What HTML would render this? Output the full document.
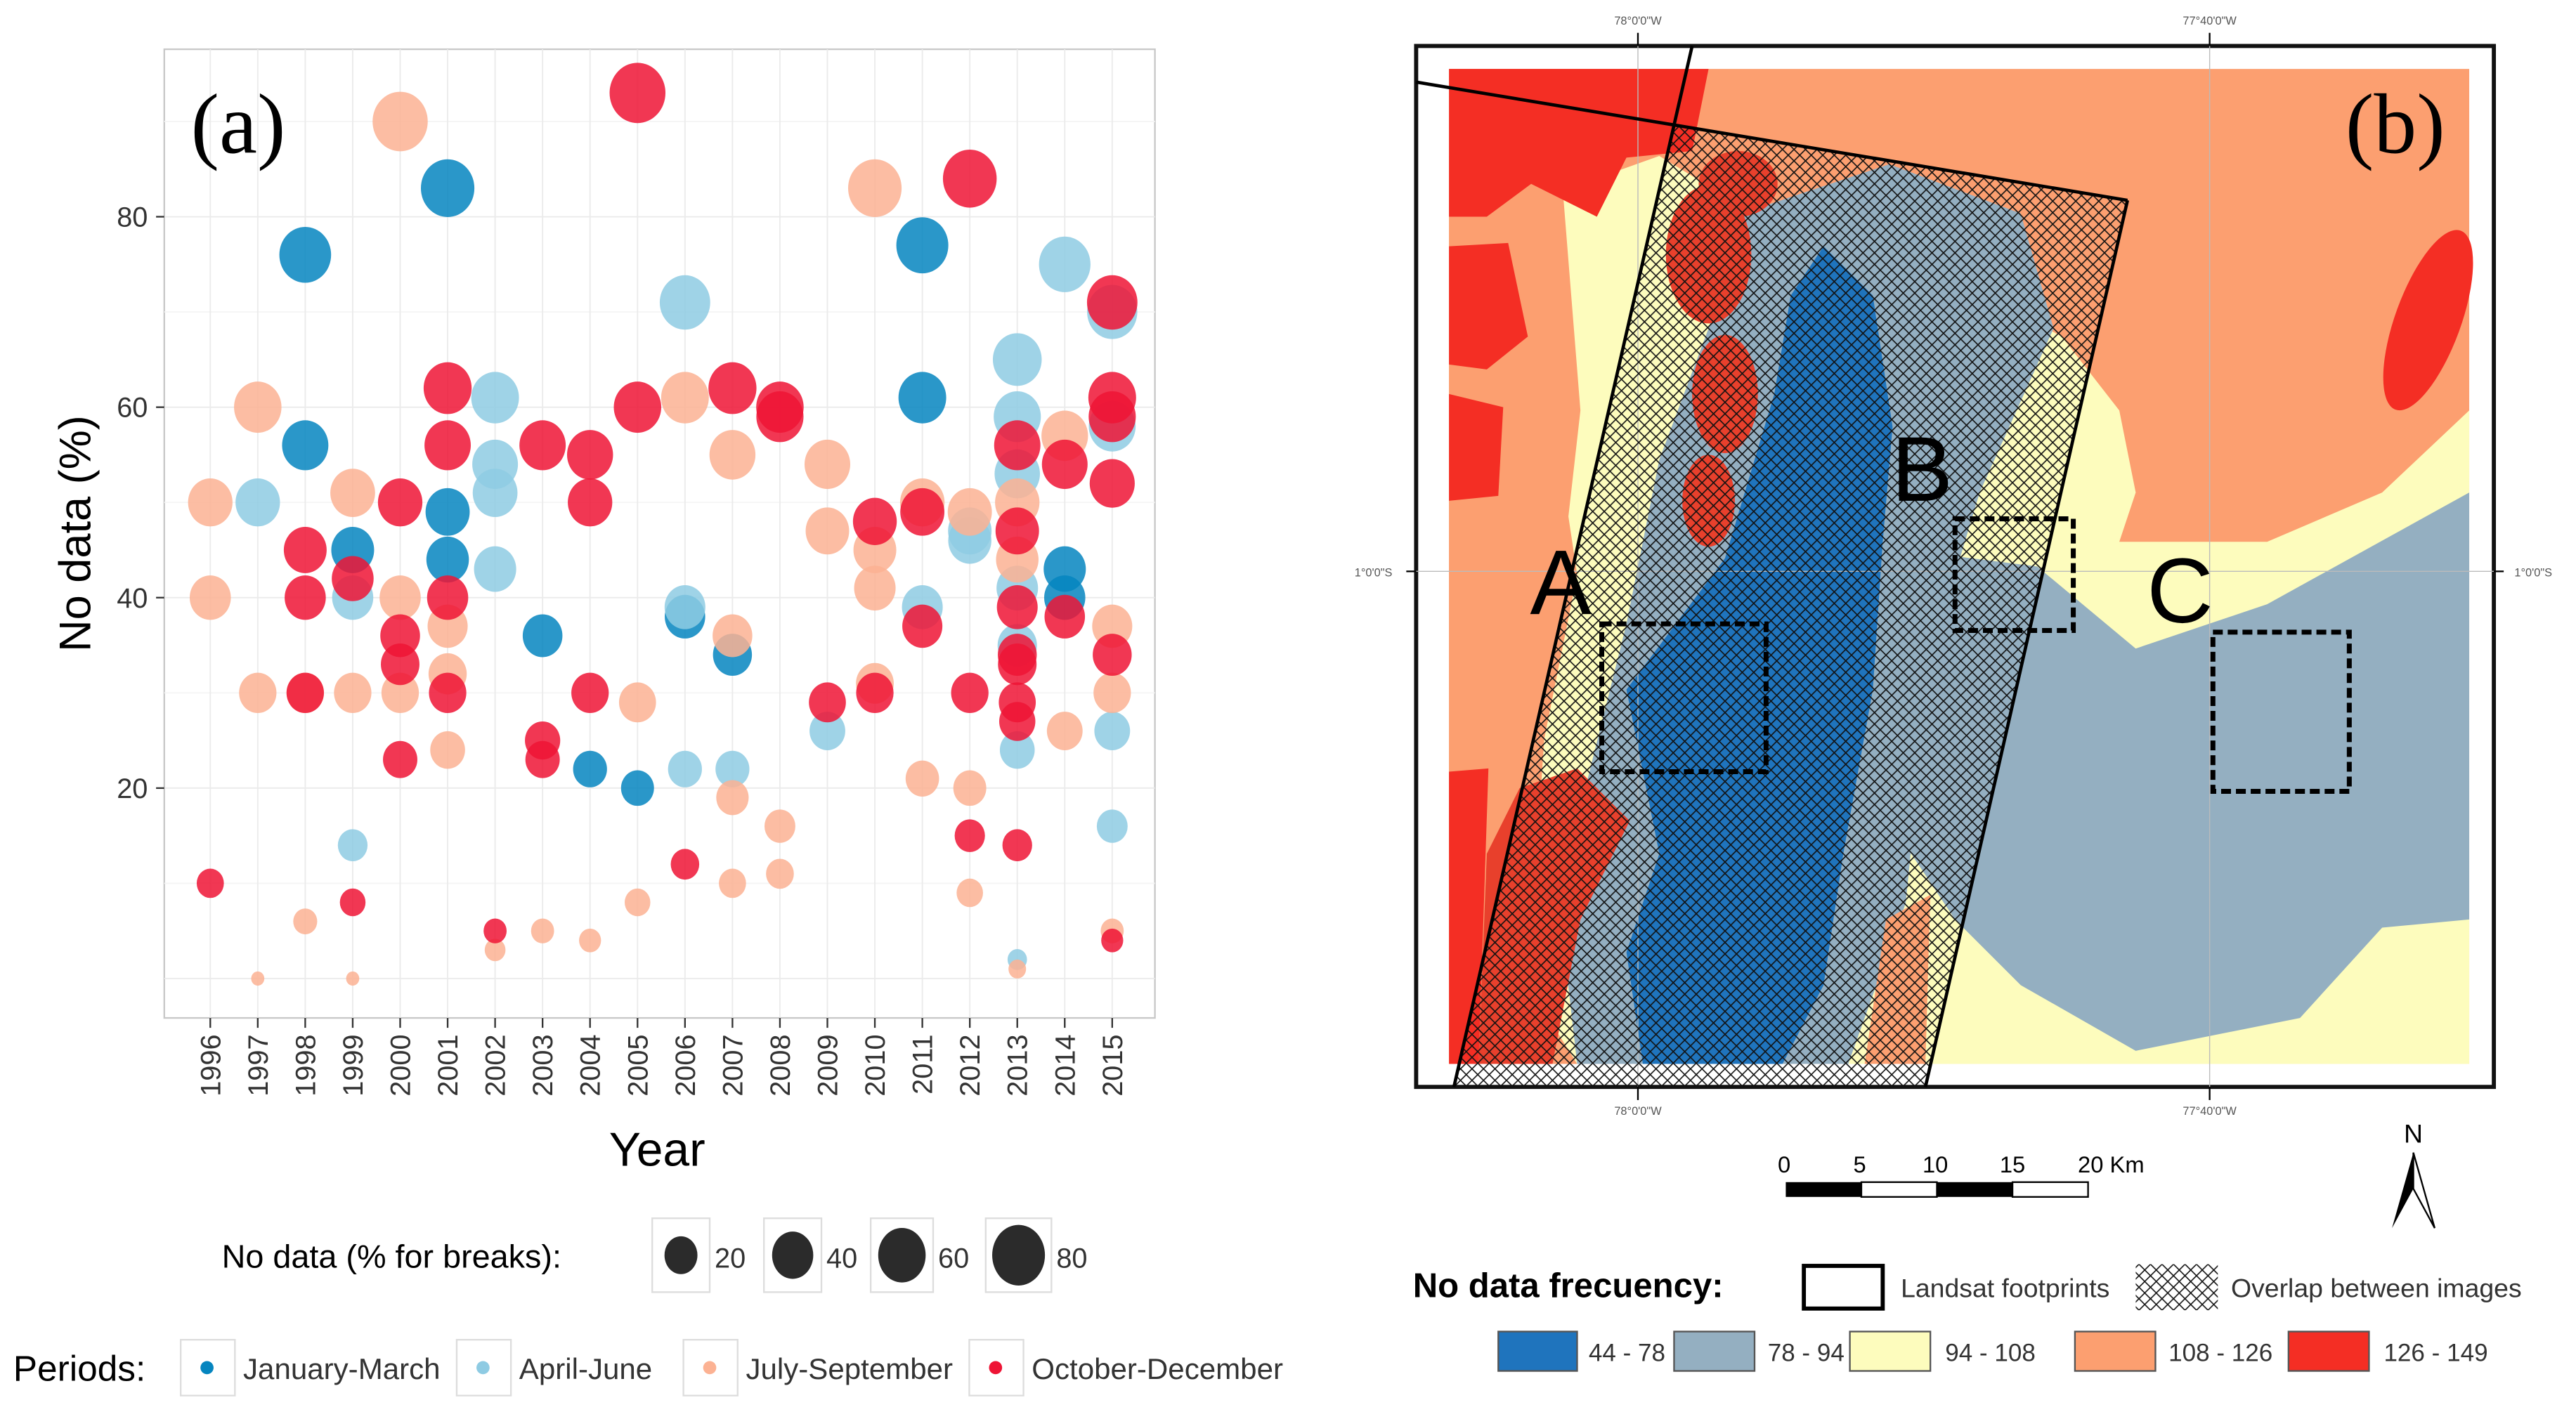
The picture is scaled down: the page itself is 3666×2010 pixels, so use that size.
<!DOCTYPE html>
<html><head><meta charset="utf-8"><style>
html,body{margin:0;padding:0;background:#fff;}
svg{display:block;}
text{font-family:"Liberation Sans",sans-serif;}
</style></head><body>
<svg id="fig" xmlns="http://www.w3.org/2000/svg" width="3666" height="2010" viewBox="0 0 1568 860" preserveAspectRatio="none">
<defs>
<pattern id="hatch" patternUnits="userSpaceOnUse" width="7" height="7">
<path d="M0,0 L7,7 M7,0 L0,7" stroke="#111" stroke-width="0.7" fill="none"/>
</pattern>
</defs>
<rect x="0" y="0" width="1568" height="860" fill="#fff"/>

<g id="panelA">
<rect x="100" y="30" width="603" height="590" fill="#fff" stroke="#c8c8c8" stroke-width="1"/>
<g id="grid"></g>
<g id="marks"></g>
<g id="yticks"></g>
<g id="xticks"></g>
<text x="145" y="93" font-size="52" text-anchor="middle" style="font-family:'Liberation Serif',serif">(a)</text>
<text transform="translate(55,325) rotate(-90)" font-size="27" text-anchor="middle">No data (%)</text>
<text x="400" y="710" font-size="29" text-anchor="middle">Year</text>
<g id="sizeLegend">
<text x="135" y="772" font-size="20">No data (% for breaks):</text>
</g>
<g id="periodLegend">
<text x="8" y="841" font-size="22">Periods:</text>
</g>
</g>

<g id="panelB">
<rect x="862" y="28" width="656" height="634" fill="#fff" stroke="#111" stroke-width="2.5"/>
<g>
<rect x="882" y="42" width="621" height="606" fill="#fc9f70"/>
<path fill="#fdfcbd" d="M940,120 L1010,95 L1100,150 L1200,175 L1255,205 L1290,250 L1300,300 L1290,330 L1380,330 L1450,300 L1503,250 L1503,648 L960,648 L930,600 L940,450 L960,350 L945,250 Z"/>
<path fill="#fc9f70" d="M882,95 L950,100 L962,250 L945,400 L935,500 L882,520 Z"/>
<path fill="#f42e24" d="M882,42 L1040,42 L1030,92 L990,96 L972,132 L932,112 L905,132 L882,132 Z"/>
<path fill="#f42e24" d="M882,150 L918,148 L930,205 L905,225 L882,222 Z"/>
<path fill="#f42e24" d="M882,240 L915,248 L912,302 L882,305 Z"/>
<path fill="#f42e24" d="M882,470 L906,468 L900,648 L882,648 Z"/>
<ellipse cx="1478" cy="195" rx="20" ry="58" transform="rotate(20 1478 195)" fill="#f42e24"/>
<path fill="#94afc1" d="M1240,345 L1300,395 L1380,368 L1503,300 L1503,560 L1450,565 L1400,620 L1300,640 L1230,600 L1190,560 L1150,500 L1135,420 L1160,335 Z"/>
<path fill="#94afc1" d="M1060,130 L1150,100 L1230,130 L1250,200 L1205,300 L1175,400 L1160,550 L1125,648 L960,648 L950,560 L965,480 L990,380 L1010,280 L1040,200 Z"/>
<path fill="#1f74bd" d="M1110,150 L1140,180 L1152,260 L1146,330 L1140,420 L1122,520 L1110,600 L1085,648 L1000,648 L990,580 L1010,520 L1000,470 L990,420 L1020,380 L1050,340 L1080,240 L1090,180 Z"/>
<ellipse cx="1040" cy="155" rx="26" ry="42" fill="#e8402c"/>
<ellipse cx="1058" cy="112" rx="24" ry="20" fill="#e8402c"/>
<ellipse cx="1050" cy="240" rx="20" ry="36" fill="#e8402c"/>
<ellipse cx="1040" cy="305" rx="16" ry="28" fill="#e8402c"/>
<path fill="#e8402c" d="M925,480 L960,468 L992,500 L962,560 L945,648 L900,648 L905,520 Z"/>
<path fill="#fc9f70" d="M1148,560 L1175,545 L1172,648 L1135,648 Z"/>
</g>
<g stroke="#bbb" stroke-width="0.6">
<line x1="997" y1="28" x2="997" y2="662"/><line x1="1345" y1="28" x2="1345" y2="662"/><line x1="862" y1="348" x2="1518" y2="348"/>
</g>
<path d="M1019,76 L1295,122 L1172,662 L885,662 Z" fill="url(#hatch)"/>
<g stroke="#000" stroke-width="2" fill="none">
<line x1="862" y1="50" x2="1295" y2="122"/>
<line x1="1030" y1="28" x2="885" y2="662"/>
<line x1="1295" y1="122" x2="1172" y2="662"/>
</g>
<g stroke="#000" stroke-width="3" stroke-dasharray="6,3" fill="none">
<rect x="975" y="380" width="100" height="90"/>
<rect x="1190" y="316" width="72" height="68"/>
<rect x="1347" y="385" width="83" height="97"/>
</g>
<text x="950" y="374" font-size="56" text-anchor="middle">A</text>
<text x="1170" y="305" font-size="56" text-anchor="middle">B</text>
<text x="1327" y="379" font-size="56" text-anchor="middle">C</text>
<text x="1458" y="93" font-size="52" text-anchor="middle" style="font-family:'Liberation Serif',serif">(b)</text>
<g font-size="7" fill="#555" text-anchor="middle">
<line x1="997" y1="20" x2="997" y2="28" stroke="#000"/><text x="997" y="15">78°0'0"W</text>
<line x1="1345" y1="20" x2="1345" y2="28" stroke="#000"/><text x="1345" y="15">77°40'0"W</text>
<line x1="997" y1="662" x2="997" y2="670" stroke="#000"/><text x="997" y="679">78°0'0"W</text>
<line x1="1345" y1="662" x2="1345" y2="670" stroke="#000"/><text x="1345" y="679">77°40'0"W</text>
<line x1="856" y1="348" x2="862" y2="348" stroke="#000"/><text x="836" y="351">1°0'0"S</text>
<line x1="1518" y1="348" x2="1524" y2="348" stroke="#000"/><text x="1542" y="351">1°0'0"S</text>
</g>
<g>
<text x="1086" y="714" font-size="14" text-anchor="middle">0</text>
<text x="1132" y="714" font-size="14" text-anchor="middle">5</text>
<text x="1178" y="714" font-size="14" text-anchor="middle">10</text>
<text x="1225" y="714" font-size="14" text-anchor="middle">15</text>
<text x="1285" y="714" font-size="14" text-anchor="middle">20 Km</text>
<rect x="1087" y="720" width="46" height="9" fill="#000"/>
<rect x="1133" y="720" width="46" height="9" fill="#fff" stroke="#000" stroke-width="1"/>
<rect x="1179" y="720" width="46" height="9" fill="#000"/>
<rect x="1225" y="720" width="46" height="9" fill="#fff" stroke="#000" stroke-width="1"/>
</g>
<g>
<text x="1469" y="696" font-size="16" text-anchor="middle">N</text>
<path d="M1469,702 L1456,748 L1469,724 Z" fill="#000"/>
<path d="M1469,702 L1482,748 L1469,724 Z" fill="#fff" stroke="#000" stroke-width="1"/>
</g>
<g>
<text x="860" y="790" font-size="21" font-weight="bold">No data frecuency:</text>
<rect x="1098" y="771" width="48" height="26" fill="#fff" stroke="#000" stroke-width="2.5"/>
<text x="1157" y="790" font-size="16" fill="#333">Landsat footprints</text>
<rect x="1300" y="770" width="50" height="28" fill="url(#hatch)"/>
<text x="1358" y="790" font-size="16" fill="#333">Overlap between images</text>
<rect x="912" y="811" width="48" height="24" fill="#1f74bd" stroke="#555" stroke-width="1"/><text x="967" y="829" font-size="15" fill="#333">44 - 78</text>
<rect x="1019" y="811" width="49" height="24" fill="#94afc1" stroke="#555" stroke-width="1"/><text x="1076" y="829" font-size="15" fill="#333">78 - 94</text>
<rect x="1126" y="811" width="49" height="24" fill="#fdfcbd" stroke="#555" stroke-width="1"/><text x="1184" y="829" font-size="15" fill="#333">94 - 108</text>
<rect x="1263" y="811" width="49" height="24" fill="#fc9f70" stroke="#555" stroke-width="1"/><text x="1320" y="829" font-size="15" fill="#333">108 - 126</text>
<rect x="1393" y="811" width="49" height="24" fill="#f42e24" stroke="#555" stroke-width="1"/><text x="1451" y="829" font-size="15" fill="#333">126 - 149</text>
</g>
</g>
</svg>
<script>
const years = [1996,1997,1998,1999,2000,2001,2002,2003,2004,2005,2006,2007,2008,2009,2010,2011,2012,2013,2014,2015];
const yTicks = [20,40,60,80];
const sizeBreaks = [20,40,60,80];
const periodNames = ["January-March","April-June","July-September","October-December"];
const janMarYears = [1998,1998,1999,2001,2001,2001,2003,2004,2005,2006,2007,2011,2011,2014,2014];
const janMarValues = [76,56,45,83,49,44,36,22,20,38,34,77,61,43,40];
const aprJunYears = [1997,1999,1999,2002,2002,2002,2002,2006,2006,2006,2007,2009,2011,2012,2012,2013,2013,2013,2013,2013,2013,2013,2014,2015,2015,2015,2015];
const aprJunValues = [50,40,14,61,54,51,43,71,39,22,22,26,39,46,47,65,59,53,41,35,24,2,75,70,58,26,16];
const julSepYears = [1996,1996,1997,1997,1997,1998,1998,1999,1999,1999,2000,2000,2000,2001,2001,2001,2002,2003,2004,2005,2005,2006,2007,2007,2007,2007,2008,2008,2009,2009,2010,2010,2010,2010,2011,2011,2012,2012,2012,2013,2013,2013,2014,2014,2015,2015,2015];
const julSepValues = [50,40,60,30,0,30,6,51,30,0,90,40,30,37,32,24,3,5,4,29,8,61,55,36,19,10,16,11,54,47,83,45,41,31,50,21,49,20,9,50,44,1,57,26,37,30,5];
const octDecYears = [1996,1998,1998,1998,1999,1999,2000,2000,2000,2000,2001,2001,2001,2001,2002,2003,2003,2003,2004,2004,2004,2005,2005,2006,2007,2008,2008,2009,2010,2010,2011,2011,2012,2012,2012,2013,2013,2013,2013,2013,2013,2013,2013,2014,2014,2015,2015,2015,2015,2015,2015];
const octDecValues = [10,45,40,30,42,8,50,36,33,23,62,56,40,30,5,56,25,23,55,50,30,93,60,12,62,60,59,29,48,30,49,37,84,30,15,56,47,39,34,33,29,27,14,54,38,71,61,59,52,34,4];
const periodColors = ["#0585bf","#8ecbe3","#fcb293","#ee1435"];

const NS = "http://www.w3.org/2000/svg";
function xScale(yr){ return 128 + (yr - 1996) * (677 - 128) / 19; }
function yScale(v){ return 480 - (v - 20) * 5.8; }
function rScale(v){ return 4 + 13 * Math.sqrt(Math.max(v,0) / 93); }
function mk(tag, attrs, parent){ const e = document.createElementNS(NS, tag); for (const k in attrs) e.setAttribute(k, attrs[k]); parent.appendChild(e); return e; }

const grid = document.getElementById('grid');
for (let v = 0; v <= 90; v += 10) {
  const gl = mk('line', {x1:100, x2:703, y1:yScale(v), y2:yScale(v), stroke: v % 20 === 0 ? '#ebebeb' : '#f5f5f5', 'stroke-width': 0.8}, grid);
  
  
}
years.forEach(yr => {
  const gl = mk('line', {x1:xScale(yr), x2:xScale(yr), y1:30, y2:620, stroke:'#ebebeb', 'stroke-width':0.8}, grid);
  
  
});

const marks = document.getElementById('marks');
const series = [[janMarYears,janMarValues],[aprJunYears,aprJunValues],[julSepYears,julSepValues],[octDecYears,octDecValues]];
series.forEach((s, si) => {
  s[0].forEach((yr, i) => {
    const v = s[1][i]; const r = rScale(v);
    const c = mk('ellipse', {cx:xScale(yr), cy:yScale(v), rx:r, ry:r*1.08, fill:periodColors[si], 'fill-opacity':0.85}, marks);
    
    
  });
});

const yt = document.getElementById('yticks');
yTicks.forEach(v => {
  mk('line', {x1:95, x2:100, y1:yScale(v), y2:yScale(v), stroke:'#333', 'stroke-width':1}, yt);
  const t = mk('text', {x:90, y:yScale(v)+6, 'font-size':17, 'text-anchor':'end', fill:'#333'}, yt);
  t.textContent = v;
  
  
});
const xt = document.getElementById('xticks');
years.forEach(yr => {
  mk('line', {x1:xScale(yr), x2:xScale(yr), y1:620, y2:626, stroke:'#333', 'stroke-width':1}, xt);
  const t = mk('text', {transform:'translate(' + (xScale(yr)+6) + ',630) rotate(-90)', 'font-size':17, 'text-anchor':'end', fill:'#333'}, xt);
  t.textContent = yr;
  
  
});

const sl = document.getElementById('sizeLegend');
const keyX = [397, 465, 530, 600];
const keyW = [35, 35, 38, 40];
sizeBreaks.forEach((b, i) => {
  const r = rScale(b);
  const box = mk('rect', {x:keyX[i], y:742, width:keyW[i], height:45, fill:'#fff', stroke:'#ddd', 'stroke-width':1}, sl);
  
  
  mk('ellipse', {cx:keyX[i] + keyW[i]/2, cy:764.5, rx:r, ry:r*1.15, fill:'#2b2b2b'}, sl);
  const t = mk('text', {x:keyX[i] + keyW[i] + 3, y:772, 'font-size':17, fill:'#333'}, sl);
  t.textContent = b;
  
  
});

const pl = document.getElementById('periodLegend');
const pX = [110, 278, 416, 590];
periodNames.forEach((n, i) => {
  const box = mk('rect', {x:pX[i], y:816, width:33, height:34, fill:'#fff', stroke:'#ddd', 'stroke-width':1}, pl);
  
  
  mk('circle', {cx:pX[i]+16, cy:833, r:4, fill:periodColors[i]}, pl);
  const t = mk('text', {x:pX[i]+38, y:840, 'font-size':18, fill:'#333'}, pl);
  t.textContent = n;
  
  
});
</script>
</body></html>
